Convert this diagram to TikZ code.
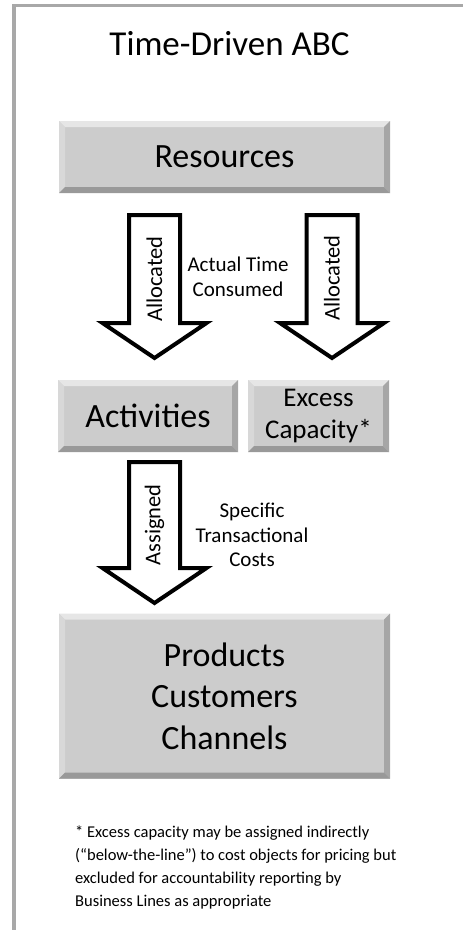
\documentclass[tikz,border=0pt]{standalone}
\usepackage{fontspec}
\setmainfont{Carlito}
\usetikzlibrary{calc}
\definecolor{frame}{HTML}{A8A8A8}
\definecolor{boxface}{HTML}{CCCCCC}
\definecolor{bevtop}{HTML}{E6E6E6}
\definecolor{bevleft}{HTML}{D8D8D8}
\definecolor{bevright}{HTML}{A6A6A6}
\definecolor{bevbot}{HTML}{999999}
\definecolor{ink}{HTML}{000000}
\tikzset{
  edge/.style={draw=frame, line width=3.5pt},
  box/.style={fill=boxface, inner sep=0pt, align=center, text=ink,
    path picture={
      \coordinate (nw) at (path picture bounding box.north west);
      \coordinate (ne) at (path picture bounding box.north east);
      \coordinate (sw) at (path picture bounding box.south west);
      \coordinate (se) at (path picture bounding box.south east);
      \fill[bevtop] (nw) -- (ne) -- ($(ne)+(-6pt,-6pt)$) -- ($(nw)+(6pt,-6pt)$) -- cycle;
      \fill[bevleft] (nw) -- (sw) -- ($(sw)+(6pt,6pt)$) -- ($(nw)+(6pt,-6pt)$) -- cycle;
      \fill[bevright] (ne) -- (se) -- ($(se)+(-6pt,6pt)$) -- ($(ne)+(-6pt,-6pt)$) -- cycle;
      \fill[bevbot] (sw) -- (se) -- ($(se)+(-6pt,6pt)$) -- ($(sw)+(6pt,6pt)$) -- cycle;
    }},
  blockarr/.style={draw=ink, fill=white, line width=4pt, line join=miter},
  head/.style={text=ink, font=\fontsize{35}{42}\selectfont},
  big/.style={font=\fontsize{34}{41.5}\selectfont},
  mid/.style={font=\fontsize{27}{32}\selectfont},
  arrlab/.style={text=ink, inner sep=0pt, font=\fontsize{22.5}{26}\selectfont},
  side/.style={text=ink, inner sep=0pt, align=center, font=\fontsize{21}{24.5}\selectfont},
  note/.style={text=ink, inner sep=0pt, align=left, font=\fontsize{16.5}{22.7}\selectfont},
}
\begin{document}
\begin{tikzpicture}[x=1pt,y=-1pt]
  \useasboundingbox (0,0) rectangle (463,930);
  \draw[edge] (463,5.3) -- (13.8,5.3) -- (13.8,930);

  \node[head] (ttl) at (229.5,44) {Time-Driven ABC};

  \node[box,big,minimum width=331,minimum height=72] (res) at (224.5,157) {Resources};
  \node[box,big,minimum width=180,minimum height=72] (act) at (148,416) {Activities};
  \node[box,mid,minimum width=141,minimum height=72] (exc) at (318.5,416) {Excess\\Capacity*};
  \node[box,big,minimum width=331,minimum height=165] (prod) at (224.5,696) {Products\\Customers\\Channels};

  % block arrows
  \foreach \ax/\ay/\ab in {154.5/215/358, 332/215/358, 154.5/462/603}{
    \draw[blockarr] (\ax-25.5,\ay) -- (\ax+25.5,\ay) -- (\ax+25.5,\ab-35) -- (\ax+52,\ab-35)
      -- (\ax,\ab) -- (\ax-52,\ab-35) -- (\ax-25.5,\ab-35) -- cycle;
  }
  \node[arrlab,rotate=90] (alla) at (154.5,279) {Allocated};
  \node[arrlab,rotate=90] (allb) at (332,278) {Allocated};
  \node[arrlab,rotate=90] (asg) at (154.5,525) {Assigned};

  \node[side] (atc) at (238,277) {Actual Time\\Consumed};
  \node[side] (stc) at (252,535) {Specific\\Transactional\\Costs};

  \node[note,anchor=north west] (fn) at (75,826) {* Excess capacity may be assigned indirectly\\(“below-the-line”) to cost objects for pricing but\\excluded for accountability reporting by\\Business Lines as appropriate};
\end{tikzpicture}
\end{document}
